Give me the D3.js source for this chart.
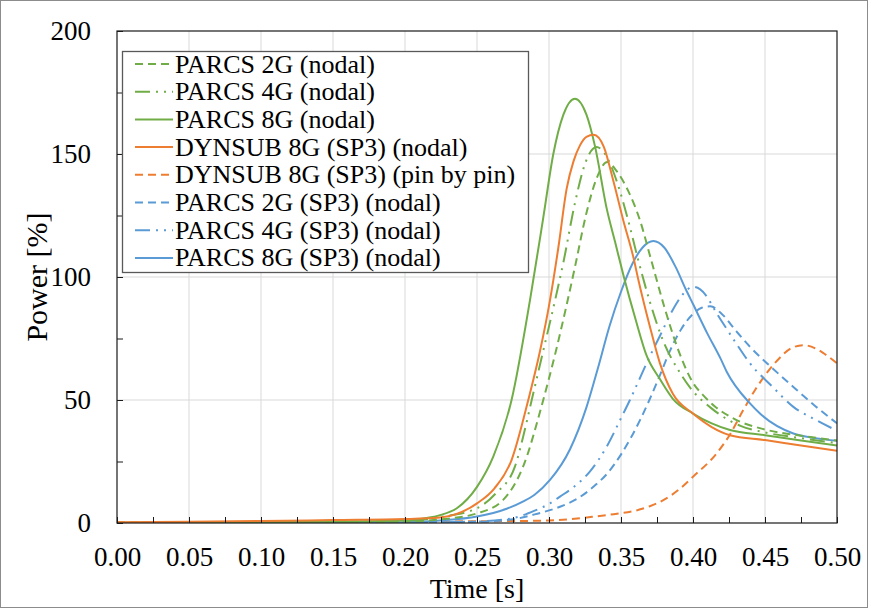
<!DOCTYPE html>
<html>
<head>
<meta charset="utf-8">
<script src="https://cdn.jsdelivr.net/npm/d3@7/dist/d3.min.js"></script>
<style>
  html, body { margin: 0; padding: 0; background: #fff; }
  svg { display: block; }
  text { font-family: "Liberation Serif", "Times New Roman", serif; fill: #000; }
</style>
</head>
<body>
<svg id="chart" width="870" height="610"></svg>
<script>
// ---------- data (time [s], power [%]) ----------
const timeTicks = [0, 0.05, 0.1, 0.15, 0.2, 0.25, 0.3, 0.35, 0.4, 0.45, 0.5];
const timeMinorTicks = [0.025, 0.075, 0.125, 0.175, 0.225, 0.275, 0.325, 0.375, 0.425, 0.475];
const powerTicks = [0, 50, 100, 150, 200];
const powerMinorTicks = [25, 75, 125, 175];

const seriesNames = [
  "PARCS 2G (nodal)", "PARCS 4G (nodal)", "PARCS 8G (nodal)",
  "DYNSUB 8G (SP3) (nodal)", "DYNSUB 8G (SP3) (pin by pin)",
  "PARCS 2G (SP3) (nodal)", "PARCS 4G (SP3) (nodal)", "PARCS 8G (SP3) (nodal)"
];
const seriesColors = ["#70ad47", "#70ad47", "#70ad47", "#ed7d31", "#ed7d31", "#5b9bd5", "#5b9bd5", "#5b9bd5"];
const seriesDashes = ["8,5", "15,6,2,6,2,6", null, null, "8,5", "8,5", "15,6,2,6,2,6", null];

const parcs2G = [[0,0],[0.1,0.1],[0.2,0.6],[0.225,1.5],[0.25,3.9],[0.268,9.3],[0.282,22.9],[0.296,50],[0.304,68],[0.312,88],[0.318,104],[0.326,126],[0.333,140],[0.3405,146.7],[0.347,143],[0.355,135],[0.3632,123],[0.371,106.8],[0.38,88],[0.39,70],[0.4,57],[0.407,52],[0.415,47.5],[0.428,42.5],[0.45,38],[0.475,35.5],[0.5,33.5]];
const parcs4G = [[0,0],[0.1,0.2],[0.2,0.8],[0.225,2.5],[0.25,6],[0.263,12],[0.2764,23],[0.282,35],[0.288,50],[0.296,70],[0.304,90],[0.31,106],[0.318,130],[0.325,146],[0.333,152.8],[0.34,149],[0.347,139],[0.355,123],[0.362,106.8],[0.37,90],[0.38,73],[0.39,62],[0.398,55],[0.412,47],[0.433,39.5],[0.45,36.8],[0.475,34.5],[0.5,32.5]];
const parcs8G = [[0,0.1],[0.1,0.4],[0.15,0.6],[0.2,1.0],[0.215,2.0],[0.2243,3.2],[0.236,6],[0.25,14.7],[0.2613,27],[0.274,50],[0.2868,90.6],[0.296,124],[0.303,150],[0.31,166],[0.318,172.5],[0.326,166],[0.332,153],[0.34,128],[0.346,114],[0.352,100],[0.36,83],[0.3678,68],[0.377,58.5],[0.386,50.5],[0.4,44.5],[0.413,40.5],[0.4257,37.8],[0.45,35.7],[0.475,33.5],[0.5,31.5]];
const dynsubNodal = [[0,0.3],[0.05,0.5],[0.1,0.8],[0.15,1.2],[0.2,1.6],[0.2243,2.2],[0.25,8],[0.262,14],[0.274,25.6],[0.2856,50],[0.2938,70],[0.3007,90.6],[0.3065,112],[0.3123,136],[0.317,147],[0.3215,153.5],[0.326,157],[0.331,157.8],[0.338,153],[0.3447,139],[0.3516,123],[0.3586,108],[0.362,99],[0.37,80],[0.377,65],[0.386,52.5],[0.4,44.5],[0.413,39],[0.4257,35.7],[0.45,33.7],[0.475,31.5],[0.5,29.4]];
const dynsubPin = [[0,0.3],[0.05,0.4],[0.1,0.4],[0.15,0.5],[0.2,0.6],[0.25,0.7],[0.3,1.0],[0.315,1.6],[0.33,2.5],[0.345,3.6],[0.36,5],[0.37,6.8],[0.38,9.5],[0.39,13.5],[0.4,18.8],[0.4164,28.3],[0.4257,36],[0.435,46],[0.443,54],[0.451,60.8],[0.46,67],[0.468,71],[0.4766,72.3],[0.485,71],[0.492,68.5],[0.5,64.9]];
const parcs2GSP3 = [[0,0],[0.1,0.1],[0.2,0.2],[0.25,0.5],[0.275,1.5],[0.29,3.5],[0.3076,6.6],[0.32,10],[0.3308,14.7],[0.341,20.5],[0.3505,28.3],[0.3632,41.8],[0.377,60],[0.384,70],[0.392,79],[0.4,85],[0.406,87.5],[0.412,88.1],[0.42,85],[0.43,78],[0.4396,71.6],[0.455,63],[0.4697,55.3],[0.485,47.5],[0.5,40.5]];
const parcs4GSP3 = [[0,0],[0.1,0.1],[0.2,0.2],[0.25,0.6],[0.275,2],[0.29,5],[0.3007,8],[0.3076,10.7],[0.318,15],[0.3285,21],[0.34,31],[0.3505,43.2],[0.3562,50],[0.3632,59],[0.3678,65],[0.377,76],[0.3863,87],[0.393,93],[0.4,96],[0.405,95],[0.4188,83],[0.43,73],[0.4396,64.9],[0.455,55.5],[0.4697,47.2],[0.485,42],[0.5,37.5]];
const parcs8GSP3 = [[0,0],[0.1,0.1],[0.2,0.3],[0.2243,1.0],[0.25,2.6],[0.2706,5.8],[0.2822,8.8],[0.29,11.5],[0.3007,17.5],[0.3146,30],[0.326,47],[0.334,63],[0.342,80],[0.35,94],[0.358,105.5],[0.365,112],[0.3725,114.6],[0.38,112],[0.388,104],[0.395,95],[0.4,89],[0.41,77],[0.419,67],[0.4234,61.5],[0.4396,48.6],[0.4465,44.5],[0.4697,36.4],[0.485,34.5],[0.5,33.4]];

const seriesData = [parcs2G, parcs4G, parcs8G, dynsubNodal, dynsubPin, parcs2GSP3, parcs4GSP3, parcs8GSP3];
// draw order (first drawn = bottom)
const drawOrder = [4, 5, 6, 7, 0, 1, 2, 3];

// ---------- layout ----------
const svg = d3.select("#chart");
const W = 870, H = 610;
const plot = { left: 117, right: 837, top: 31, bottom: 523 };

const x = d3.scaleLinear().domain([0, 0.5]).range([plot.left, plot.right]);
const y = d3.scaleLinear().domain([0, 200]).range([plot.bottom, plot.top]);

// outer frame
svg.append("rect").attr("x", 0.5).attr("y", 0.5).attr("width", W - 3).attr("height", H - 3)
  .attr("fill", "#fff").attr("stroke", "#8c8c8c").attr("stroke-width", 1);

// gridlines
const grid = svg.append("g");
grid.selectAll(".vg").data(timeTicks.slice(1, -1)).join("line")
  .attr("x1", d => x(d)).attr("x2", d => x(d)).attr("y1", plot.top).attr("y2", plot.bottom)
  .attr("stroke", "#d9d9d9").attr("stroke-width", 1);
grid.selectAll(".hg").data(powerTicks.slice(1, -1)).join("line")
  .attr("x1", plot.left).attr("x2", plot.right).attr("y1", d => y(d)).attr("y2", d => y(d))
  .attr("stroke", "#d9d9d9").attr("stroke-width", 1);

// clip
svg.append("clipPath").attr("id", "clip").append("rect")
  .attr("x", plot.left).attr("y", plot.top).attr("width", plot.right - plot.left).attr("height", plot.bottom - plot.top);

const line = d3.line().x(d => x(d[0])).y(d => y(d[1])).curve(d3.curveMonotoneX);
const lines = svg.append("g").attr("clip-path", "url(#clip)");
drawOrder.forEach(i => {
  lines.append("path").datum(seriesData[i])
    .attr("d", line).attr("fill", "none")
    .attr("stroke", seriesColors[i]).attr("stroke-width", 2)
    .attr("stroke-dasharray", seriesDashes[i])
    .attr("stroke-linejoin", "round");
});

// plot border
svg.append("rect").attr("x", plot.left).attr("y", plot.top)
  .attr("width", plot.right - plot.left).attr("height", plot.bottom - plot.top)
  .attr("fill", "none").attr("stroke", "#1a1a1a").attr("stroke-width", 1.2);

// inside tick marks
const xTicksG = svg.append("g").attr("transform", `translate(0,${plot.bottom})`)
  .call(d3.axisBottom(x).tickValues(timeTicks.concat(timeMinorTicks)).tickSize(-6).tickFormat(""));
xTicksG.select(".domain").remove();
xTicksG.selectAll("line").attr("stroke", "#1a1a1a");
const yTicksG = svg.append("g").attr("transform", `translate(${plot.left},0)`)
  .call(d3.axisLeft(y).tickValues(powerTicks.concat(powerMinorTicks)).tickSize(-6).tickFormat(""));
yTicksG.select(".domain").remove();
yTicksG.selectAll("line").attr("stroke", "#1a1a1a");

// tick labels
const xLab = svg.append("g").attr("transform", `translate(0,${plot.bottom})`)
  .call(d3.axisBottom(x).tickValues(timeTicks).tickSize(0).tickPadding(24).tickFormat(d3.format(".2f")));
xLab.select(".domain").remove();
xLab.selectAll("text").attr("font-size", 27).attr("font-family", "'Liberation Serif', 'Times New Roman', serif").attr("fill", "#000");

const yLab = svg.append("g").attr("transform", `translate(${plot.left},0)`)
  .call(d3.axisLeft(y).tickValues(powerTicks).tickSize(0).tickPadding(26).tickFormat(d3.format("d")));
yLab.select(".domain").remove();
yLab.selectAll("text").attr("font-size", 27).attr("font-family", "'Liberation Serif', 'Times New Roman', serif").attr("fill", "#000");

// axis titles
svg.append("text").attr("x", (plot.left + plot.right) / 2).attr("y", 598)
  .attr("text-anchor", "middle").attr("font-size", 28).text("Time [s]");
svg.append("text").attr("transform", `translate(47,${y(100)}) rotate(-90)`)
  .attr("text-anchor", "middle").attr("font-size", 30).text("Power [%]");

// legend
const legend = svg.append("g");
legend.append("rect").attr("x", 122.5).attr("y", 51.5).attr("width", 406).attr("height", 221)
  .attr("fill", "#fff").attr("stroke", "#595959").attr("stroke-width", 1.3);
const rowY0 = 64, rowDy = 27.7;
seriesNames.forEach((name, i) => {
  const cy = rowY0 + i * rowDy;
  legend.append("line").attr("x1", 135).attr("x2", 173).attr("y1", cy).attr("y2", cy)
    .attr("stroke", seriesColors[i]).attr("stroke-width", 2).attr("stroke-dasharray", seriesDashes[i]);
  legend.append("text").attr("x", 175).attr("y", cy + 8.5).attr("font-size", 26).text(name);
});
</script>
</body>
</html>
